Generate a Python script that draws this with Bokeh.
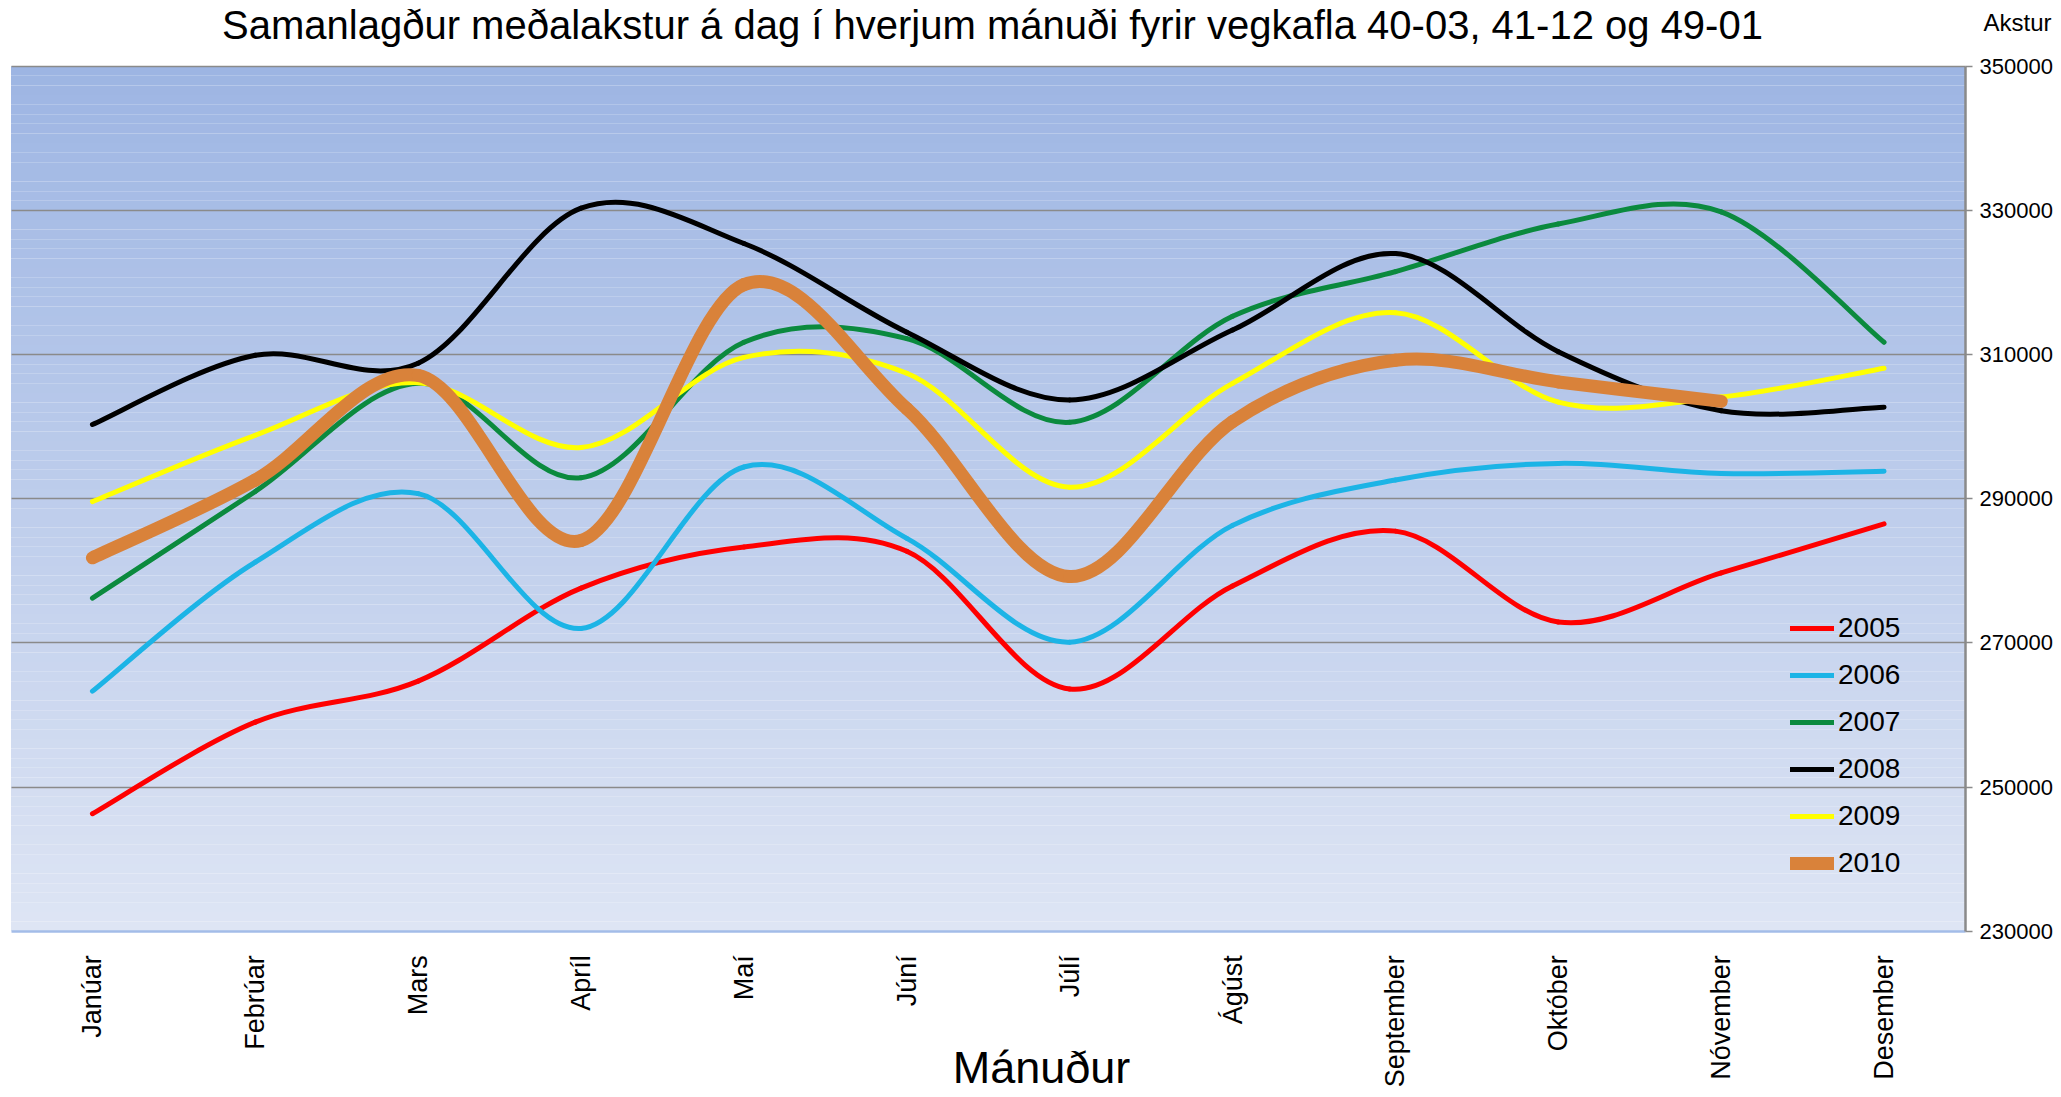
import numpy as np
from bokeh.plotting import figure
from bokeh.models import (Range1d, FixedTicker, BoxAnnotation, Label, Grid,
                          Legend, LegendItem, BasicTickFormatter, ColumnDataSource)
from bokeh.embed import file_html
from bokeh.resources import INLINE

# ---------------- data ----------------
months = ["Janúar", "Febrúar", "Mars", "Apríl", "Maí", "Júní", "Júlí",
          "Ágúst", "September", "Október", "Nóvember", "Desember"]
years = ["2005", "2006", "2007", "2008", "2009", "2010"]

v2005 = [246300, 259000, 264700, 277600, 283300, 282700, 263600, 277900, 285500, 272900, 279700, 286500]
v2006 = [263300, 281200, 290700, 272000, 294400, 284500, 270100, 286300, 292600, 294900, 293500, 293800]
v2007 = [276200, 291000, 306000, 292900, 311700, 312200, 300600, 315300, 321500, 328100, 329800, 311700]
v2008 = [300300, 309900, 308800, 330300, 325400, 313100, 303700, 313400, 324000, 310400, 302200, 302700]
v2009 = [289600, 298800, 306100, 297100, 309600, 307400, 291600, 306000, 315800, 303400, 304100, 308100]
v2010 = [281800, 292600, 307100, 284200, 319700, 302500, 279200, 300700, 309200, 306200, 303500, None]

y_ticks = [230000, 250000, 270000, 290000, 310000, 330000, 350000]

title_text = "Samanlagður meðalakstur á dag í hverjum mánuði fyrir vegkafla 40-03, 41-12 og 49-01"
x_title = "Mánuður"
y_title = "Akstur"

series = [v2005, v2006, v2007, v2008, v2009, v2010]
colors = ["#ff0000", "#1cb4e6", "#0b8a3e", "#000000", "#ffff00", "#d9823a"]
widths = [5, 5, 5, 5, 5, 13]

FONT = "Liberation Sans"

# ---------------- layout (canvas pixels) ----------------
W, H = 2060, 1095
PL, PR, PT, PB = 10.5, 1965.0, 65.7, 930.7      # plot-area edges inside the canvas
n = len(months)
ymin, ymax = y_ticks[0], y_ticks[-1]
xpp = n / (PR - PL)
ypp = (ymax - ymin) / (PB - PT)
x_range = Range1d(-PL * xpp, n + (W - PR) * xpp)
y_range = Range1d(ymin - (H - PB) * ypp, ymax + PT * ypp)

p = figure(width=W, height=H, x_range=x_range, y_range=y_range,
           y_axis_location="right", output_backend="svg", toolbar_location=None,
           min_border=0, min_border_left=0, min_border_right=0,
           min_border_top=0, min_border_bottom=0)
p.outline_line_color = None
p.background_fill_color = "white"
p.border_fill_color = "white"

# gradient background of the plot area (decoration) made of thin bands
top_rgb = np.array([157, 181, 227])
bot_rgb = np.array([222, 229, 244])
nb = 90
for k in range(nb):
    b = ymin + (ymax - ymin) * k / nb
    t = ymin + (ymax - ymin) * (k + 1) / nb
    f = (k + 0.5) / nb
    c = bot_rgb + (top_rgb - bot_rgb) * f
    col = "#%02x%02x%02x" % tuple(int(round(v)) for v in c)
    p.add_layout(BoxAnnotation(left=0, right=n, bottom=b, top=t, fill_color=col,
                               fill_alpha=1.0, line_alpha=0, level="image"))

# grid
p.xgrid.visible = False
p.ygrid.ticker = FixedTicker(ticks=y_ticks[1:])
p.ygrid.grid_line_color = "#8a8a8a"
p.ygrid.grid_line_width = 1.7
if "cross_bounds" in Grid.properties():
    p.ygrid.cross_bounds = (0, n)

# x axis (months), placed at the bottom of the plot area
xpos = [i + 0.5 for i in range(n)]
xa = p.xaxis[0]
xa.fixed_location = ymin
xa.bounds = (0, n)
xa.ticker = FixedTicker(ticks=xpos)
xa.major_label_overrides = {x: m for x, m in zip(xpos, months)}
xa.major_label_orientation = np.pi / 2
xa.axis_line_color = "#a3bce8"
xa.axis_line_width = 2.5
xa.major_tick_line_color = None
xa.minor_tick_line_color = None
xa.major_label_standoff = 18
xa.major_label_text_font = FONT
xa.major_label_text_font_size = "27px"
xa.major_label_text_color = "#000000"

# y axis (right side of the plot area)
ya = p.yaxis[0]
ya.fixed_location = n
ya.bounds = (ymin, ymax)
ya.ticker = FixedTicker(ticks=y_ticks)
ya.formatter = BasicTickFormatter(use_scientific=False)
ya.axis_line_color = "#8a8a8a"
ya.axis_line_width = 2.5
ya.major_tick_line_color = "#8a8a8a"
ya.major_tick_line_width = 1.5
ya.major_tick_out = 7
ya.major_tick_in = 0
ya.minor_tick_line_color = None
ya.major_label_standoff = 7
ya.major_label_text_font = FONT
ya.major_label_text_font_size = "22px"
ya.major_label_text_color = "#000000"

# smoothed lines (Bezier segments through the data points)
def bezier_source(vals):
    pts = [(x, v) for x, v in zip(xpos, vals) if v is not None]
    xs = [q[0] for q in pts]
    ys = [q[1] for q in pts]
    m = len(xs)
    d = dict(x0=[], y0=[], x1=[], y1=[], cx0=[], cy0=[], cx1=[], cy1=[])
    for i in range(m - 1):
        im = max(i - 1, 0)
        ip = min(i + 2, m - 1)
        d["x0"].append(xs[i]); d["y0"].append(ys[i])
        d["x1"].append(xs[i + 1]); d["y1"].append(ys[i + 1])
        d["cx0"].append(xs[i] + (xs[i + 1] - xs[im]) / 6)
        d["cy0"].append(ys[i] + (ys[i + 1] - ys[im]) / 6)
        d["cx1"].append(xs[i + 1] - (xs[ip] - xs[i]) / 6)
        d["cy1"].append(ys[i + 1] - (ys[ip] - ys[i]) / 6)
    return ColumnDataSource(d)

items = []
for yr, vals, col, w in zip(years, series, colors, widths):
    r = p.bezier(x0="x0", y0="y0", x1="x1", y1="y1", cx0="cx0", cy0="cy0",
                 cx1="cx1", cy1="cy1", source=bezier_source(vals),
                 line_color=col, line_width=w, line_cap="round")
    items.append(LegendItem(label=yr, renderers=[r]))

legend = Legend(items=items, location=(1790, 216), padding=0, margin=0,
                spacing=15, glyph_width=44, glyph_height=30, label_height=30,
                label_standoff=4, label_text_font=FONT, label_text_font_size="28px",
                label_text_color="#000000", border_line_alpha=0,
                background_fill_alpha=0)
p.add_layout(legend)

# texts: chart title, axis titles (screen units = canvas pixels from bottom-left)
p.add_layout(Label(x=992, y=H - 24, x_units="screen", y_units="screen", text=title_text,
                   text_align="center", text_baseline="middle",
                   text_font=FONT, text_font_size="40px", text_color="#000000"))
p.add_layout(Label(x=1041, y=H - 1067, x_units="screen", y_units="screen", text=x_title,
                   text_align="center", text_baseline="middle",
                   text_font=FONT, text_font_size="45px", text_color="#000000"))
p.add_layout(Label(x=1983, y=H - 22, x_units="screen", y_units="screen", text=y_title,
                   text_align="left", text_baseline="middle",
                   text_font=FONT, text_font_size="24px", text_color="#000000"))

open("out.html", "w").write(file_html(p, INLINE))
